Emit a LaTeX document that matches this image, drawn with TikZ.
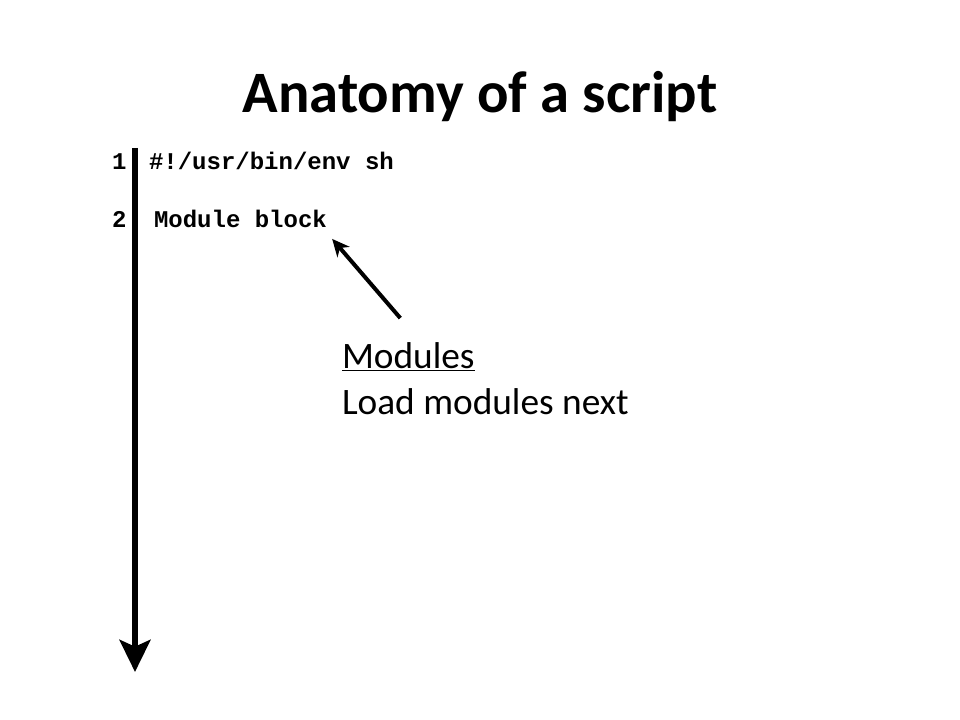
\documentclass[tikz,border=0pt]{standalone}
\usepackage{fontspec}
\setmainfont{Carlito}
\newfontfamily\codefont{Liberation Mono}
\usetikzlibrary{arrows.meta, positioning}

\tikzset{
  code/.style={font=\codefont\bfseries\fontsize{18}{22}\selectfont, anchor=base west},
  note/.style={font=\fontsize{28}{34}\selectfont, anchor=base west},
  timeline/.style={line width=5pt, -{Stealth[length=24pt, width=23pt, inset=5pt]}},
  pointer/.style={line width=3pt, -{Stealth[length=13pt, width=12pt, inset=4pt]}}
}

\begin{document}
\begin{tikzpicture}[x=0.75pt, y=-0.75pt, inner sep=0pt, outer sep=0pt]
    \useasboundingbox (0,0) rectangle (960,720);

    \node[anchor=base, font=\bfseries\fontsize{44}{52}\selectfont] (title) at (480,113) {Anatomy of a script};

    \node[code] (num1) at (112,170) {1};
    \node[code] (line1) at (149,170) {\#!/usr/bin/env sh};
    \node[code] (num2) at (112,228) {2};
    \node[code] (line2) at (154,228) {Module block};

    \node[note] (mods) at (342,368) {\underline{Modules}};
    \node[note] (load) at (342,414) {Load modules next};

    \coordinate (top) at (135,148);
    \coordinate (bottom) at (135,672);
    \draw[timeline] (top) -- (bottom);

    \draw[pointer] ([xshift=-6pt, yshift=18pt]mods.north) -- ([xshift=4pt, yshift=-8pt]line2.south east);

\end{tikzpicture}
\end{document}
